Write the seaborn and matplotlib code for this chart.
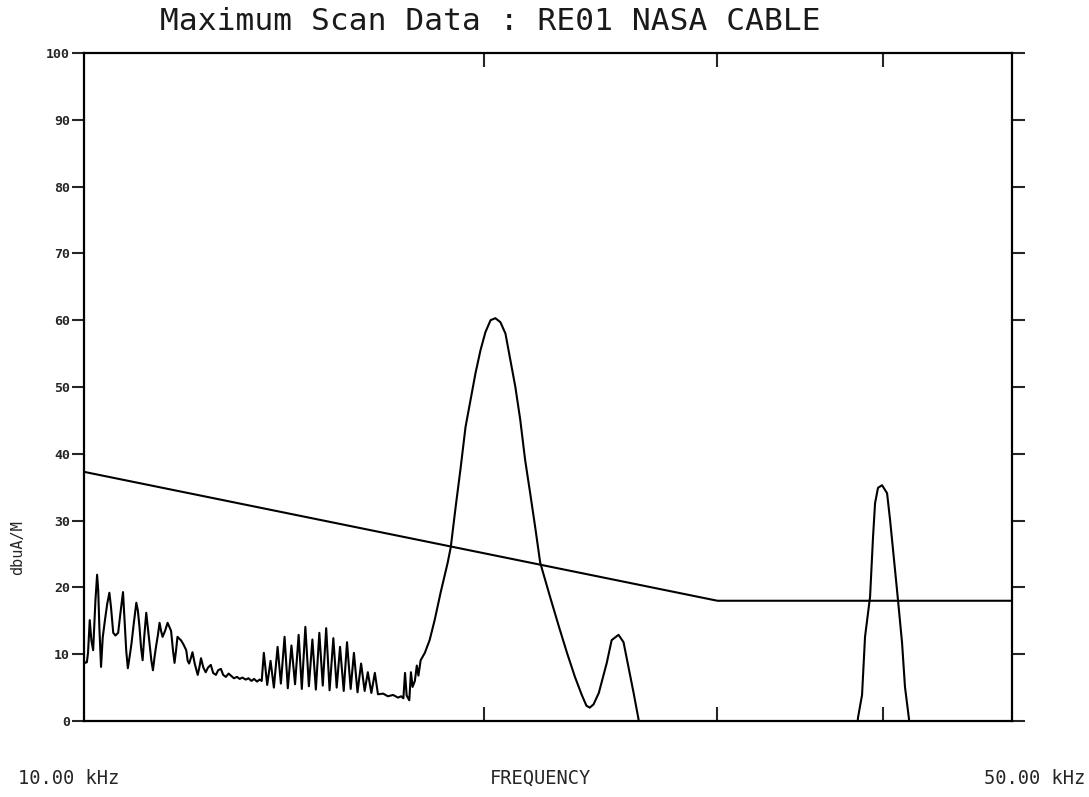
import matplotlib
matplotlib.use("Agg")
import matplotlib.pyplot as plt
from matplotlib.ticker import NullLocator, FixedLocator
import pandas as pd
import seaborn as sns

# ---- scan data (frequency in kHz, level in dBuA/M) ----
scan_freq_low = [
    10.00, 10.02, 10.05, 10.07, 10.10, 10.13, 10.16, 10.20, 10.23, 10.25,
    10.27, 10.30, 10.33, 10.37, 10.41, 10.45, 10.48, 10.52, 10.56, 10.61,
    10.65, 10.70, 10.73, 10.76, 10.79, 10.83, 10.86, 10.90, 10.95, 10.98,
    11.01, 11.04, 11.07, 11.10, 11.14, 11.17, 11.20, 11.24, 11.27, 11.30,
    11.33, 11.37, 11.40, 11.43, 11.46, 11.51, 11.56, 11.60, 11.63, 11.67,
    11.70, 11.73, 11.76, 11.80, 11.83, 11.88, 11.94, 11.97, 12.00, 12.04,
    12.07, 12.12, 12.18, 12.22, 12.25, 12.30, 12.35, 12.40, 12.46, 12.51,
    12.57, 12.62, 12.68, 12.73, 12.79, 12.85, 12.90, 12.97, 13.04, 13.10,
    13.16, 13.24, 13.30, 13.37, 13.43, 13.50, 13.56, 13.61,
]
scan_level_low = [
    9.0, 8.7, 8.8, 10.2, 15.1, 12.0, 10.6, 18.0, 21.9, 19.5,
    14.0, 8.1, 12.5, 15.1, 17.5, 19.2, 17.0, 13.2, 12.8, 13.2,
    16.0, 19.3, 15.0, 10.5, 7.9, 10.0, 11.7, 14.5, 17.7, 16.5,
    14.1, 11.0, 9.1, 12.5, 16.2, 14.0, 11.7, 9.0, 7.6, 9.5,
    11.1, 13.0, 14.7, 13.5, 12.6, 13.5, 14.7, 14.0, 13.5, 10.5,
    8.7, 10.5, 12.6, 12.3, 12.1, 11.5, 10.6, 9.0, 8.6, 9.5,
    10.3, 8.5, 6.9, 8.2, 9.4, 8.0, 7.3, 8.0, 8.4, 7.2,
    6.9, 7.6, 7.8, 6.9, 6.6, 7.1, 6.8, 6.4, 6.6, 6.3,
    6.5, 6.2, 6.4, 6.0, 6.3, 5.9, 6.2, 6.0,
]

scan_freq_mid = [
    13.66, 13.74, 13.82, 13.90, 13.99, 14.07, 14.16, 14.24, 14.33, 14.42,
    14.51, 14.59, 14.68, 14.77, 14.86, 14.95, 15.04, 15.13, 15.22, 15.31,
    15.41, 15.50, 15.59, 15.69, 15.78, 15.88, 15.97, 16.07, 16.17, 16.27,
    16.36, 16.46, 16.56, 16.65, 16.80, 16.94, 17.09, 17.24, 17.33, 17.40,
    17.45, 17.50, 17.58, 17.63, 17.68, 17.75, 17.81, 17.86, 17.93,
]
scan_level_mid = [
    10.2, 5.4, 9.0, 5.0, 11.1, 5.6, 12.6, 4.9, 11.3, 5.5,
    12.9, 4.8, 14.1, 5.2, 12.2, 4.7, 13.2, 5.3, 13.9, 4.6,
    12.4, 5.0, 11.1, 4.5, 11.8, 4.8, 10.2, 4.3, 8.6, 4.5,
    7.3, 4.2, 7.2, 4.0, 4.1, 3.7, 3.9, 3.5, 3.7, 3.4,
    7.2, 3.8, 3.1, 7.3, 5.1, 6.0, 8.3, 6.8, 9.1,
]

scan_freq_high = [
    18.06, 18.21, 18.37, 18.56, 18.79, 18.89, 19.05, 19.22, 19.38, 19.55,
    19.72, 19.89, 20.06, 20.24, 20.41, 20.59, 20.77, 20.95, 21.13, 21.31,
    21.49, 21.68, 21.87, 22.06, 22.44, 22.79, 23.11, 23.43, 23.71, 23.90,
    24.04, 24.20, 24.42, 24.76, 24.97, 25.27, 25.49, 25.71, 25.94, 26.16,
    26.25,
]
scan_level_high = [
    10.2, 12.1, 15.1, 19.2, 23.7, 26.0, 32.0, 38.0, 44.0, 48.1,
    52.1, 55.5, 58.2, 60.0, 60.3, 59.7, 58.0, 54.0, 50.0, 45.1,
    39.1, 34.1, 29.0, 23.7, 18.6, 14.1, 10.2, 6.6, 3.9, 2.3,
    2.0, 2.5, 4.2, 8.7, 12.1, 12.9, 11.8, 8.1, 4.2, 0.3,
    -2.0,
]

peak_freq = [
    38.20, 38.28, 38.55, 38.75, 39.09, 39.29, 39.43, 39.63, 39.91, 40.26,
    40.47, 40.82, 41.03, 41.32, 41.53, 41.82, 41.90,
]
peak_level = [
    -2.0, 0.5, 3.9, 12.6, 18.6, 27.5, 32.6, 34.9, 35.3, 34.1,
    30.1, 22.6, 18.1, 11.7, 5.1, 0.3, -2.0,
]

# ---- RE01 limit line ----
limit_freq = [10.0, 30.0, 50.0]
limit_level = [37.3, 18.0, 18.0]

# ---- axis text ----
title_text = "Maximum Scan Data : RE01 NASA CABLE"
y_label = "dbuA/M"
y_ticks = [0, 10, 20, 30, 40, 50, 60, 70, 80, 90, 100]
y_tick_labels = ["0", "10", "20", "30", "40", "50", "60", "70", "80", "90", "100"]
x_ticks = [20, 30, 40]
x_start_label = "10.00 kHz"
x_mid_label = "FREQUENCY"
x_end_label = "50.00 kHz"

# ---- assemble long-form frame ----
scan_freq = scan_freq_low + scan_freq_mid + scan_freq_high
scan_level = scan_level_low + scan_level_mid + scan_level_high
trace = pd.concat([
    pd.DataFrame({"freq": scan_freq, "level": scan_level, "seg": 0}),
    pd.DataFrame({"freq": peak_freq, "level": peak_level, "seg": 1}),
    pd.DataFrame({"freq": limit_freq, "level": limit_level, "seg": 2}),
], ignore_index=True)

sns.set_style("ticks")
plt.rcParams["font.family"] = ["DejaVu Sans Mono", "DejaVu Sans"]

fig = plt.figure(figsize=(10.89, 7.97), dpi=100)
ax = fig.add_axes([84 / 1089, 1 - 721 / 797, (1012 - 84) / 1089, (721 - 53) / 797])
ax.set_xscale("log")

sns.lineplot(data=trace, x="freq", y="level", units="seg", estimator=None,
             sort=False, color="black", linewidth=1.5, ax=ax)

ax.set_xlim(10, 50)
ax.set_ylim(0, 100)
ax.set_xlabel("")
ax.set_ylabel("")

for side in ["left", "right", "top", "bottom"]:
    ax.spines[side].set_visible(True)
    ax.spines[side].set_linewidth(1.6)
    ax.spines[side].set_color("black")

ax.yaxis.set_major_locator(FixedLocator(y_ticks))
ax.set_yticklabels(y_tick_labels, fontsize=9.5, fontweight="bold")
ax.tick_params(axis="y", which="major", direction="out", length=9, width=1.5,
               pad=1, left=True, right=True, labelleft=True, labelright=False)

ax.xaxis.set_major_locator(FixedLocator(x_ticks))
ax.xaxis.set_minor_locator(NullLocator())
ax.tick_params(axis="x", which="major", direction="in", length=10, width=1.5,
               top=True, bottom=True, labelbottom=False, labeltop=False)

fig.text(490 / 1089, 1 - 22 / 797, title_text, fontsize=22.5, ha="center", va="center",
         color="#1a1a1a")
fig.text(18 / 1089, 1 - 548 / 797, y_label, fontsize=11, rotation=90,
         ha="center", va="center")
fig.text(18 / 1089, 1 - 778 / 797, x_start_label, fontsize=13.5, ha="left", va="center")
fig.text(540 / 1089, 1 - 778 / 797, x_mid_label, fontsize=13.5, ha="center", va="center")
fig.text(1085 / 1089, 1 - 778 / 797, x_end_label, fontsize=13.5, ha="right", va="center")

fig.savefig("out.png", dpi=100)
